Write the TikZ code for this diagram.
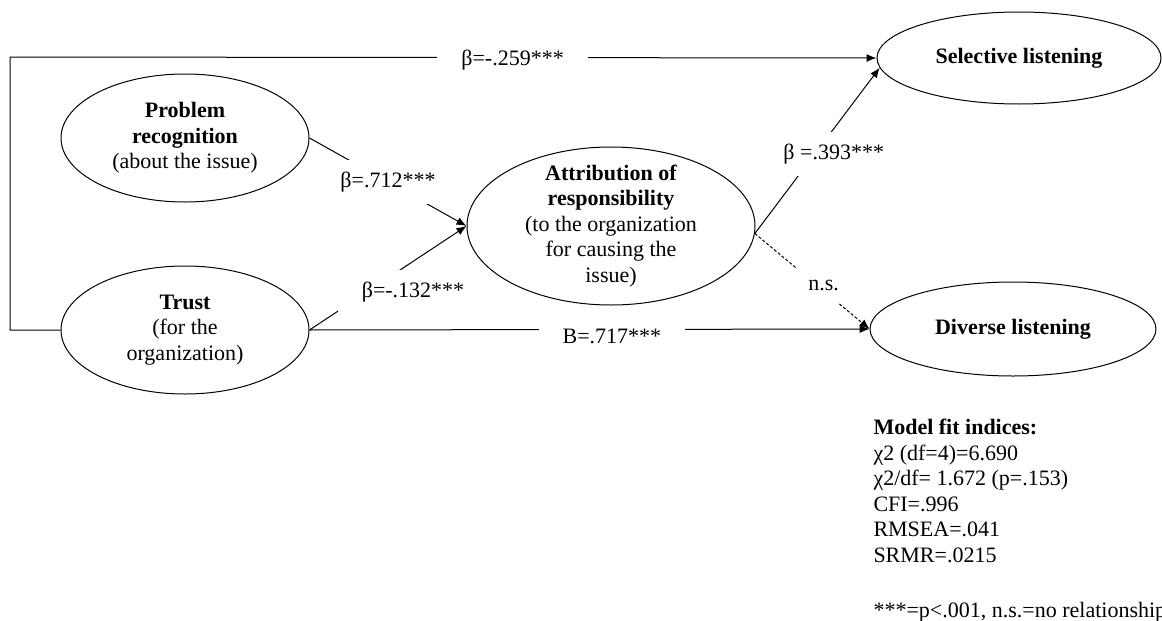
\documentclass[tikz,border=0pt]{standalone}
\usepackage{fontspec}
\setmainfont{Liberation Serif}
\usetikzlibrary{positioning, arrows.meta, shapes.geometric}

\begin{document}
\begin{tikzpicture}[x=1pt, y=-1pt, node distance={192pt}, line width=1pt, >={Latex[length=10pt, width=8pt]}, font=\fontsize{22pt}{25.5pt}\selectfont]
                \tikzstyle{var} = [ellipse, draw, inner sep=0pt, align=center]
                \tikzstyle{coef} = [fill=white, inner xsep=24pt, inner ysep=12pt]
                \tikzstyle{ns} = [dash pattern=on 3pt off 2pt]

                \useasboundingbox (0,0) rectangle (1162,621);

                % Predictors (left column)
                \node[var, minimum width=248pt, minimum height=128pt] (prob) at (185,138) {\textbf{Problem}\\\textbf{recognition}\\(about the issue)};
                \node[var, minimum width=248pt, minimum height=128pt] (trust) [below of=prob] {\textbf{Trust}\\(for the\\organization)};

                % Mediator (middle)
                \node[var, minimum width=288pt, minimum height=158pt, inner ysep=-15pt] (attr) at (611,226) {\textbf{Attribution of}\\\textbf{responsibility}\\(to the organization\\for causing the\\issue)};

                % Outcomes (right column)
                \node[var, minimum width=284pt, minimum height=92pt] (sel) at (1019,58) {\textbf{Selective listening}};
                \node[var, minimum width=286pt, minimum height=94pt] (div) at (1013,329) {\textbf{Diverse listening}};

                % Fit indices
                \node[align=left, anchor=north west, inner sep=0pt] (fit) at (873,419) {\textbf{Model fit indices:}\\χ2 (df=4)=6.690\\χ2/df= 1.672 (p=.153)\\CFI=.996\\RMSEA=.041\\SRMR=.0215\\[29.5pt]***=p<.001, n.s.=no relationship};

                \coordinate (corner) at (10,57);

                \draw[->] (trust.west) -| (corner) -- node[coef, pos=0.58, yshift=-3pt] {β=-.259***} (sel.west);
                \draw[->] (prob.east) -- node[coef] {β=.712***} (attr.west);
                \draw[->] (trust.east) -- node[coef, pos=0.36, xshift=47pt] {β=-.132***} (attr.west);
                \draw[->] (trust.east) -- node[coef, pos=0.54, yshift=-7pt] {B=.717***} (div.west);
                \draw[->] (attr.-3) -- node[coef, pos=0.48, xshift=19pt] {β =.393***} (sel.184);
                \draw[->, ns] (attr.-3) -- node[coef, pos=0.6, yshift=5pt] {n.s.} (div.west);
            \end{tikzpicture}
\end{document}
